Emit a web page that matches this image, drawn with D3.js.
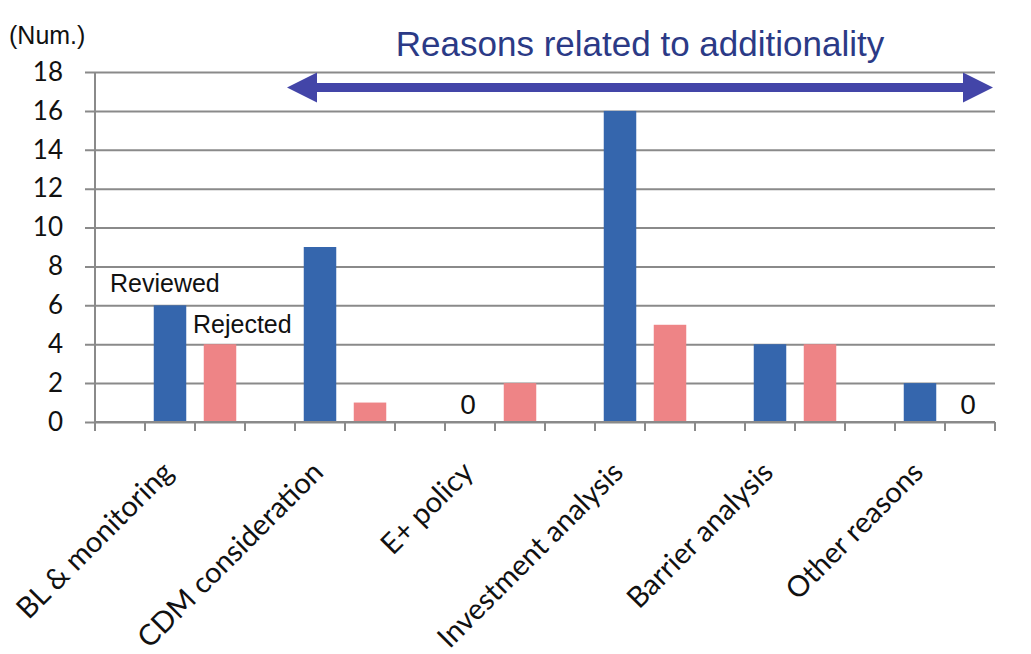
<!DOCTYPE html>
<html>
<head>
<meta charset="utf-8">
<script src="https://cdn.jsdelivr.net/npm/d3@7"></script>
<style>
  body { margin: 0; background: #fff; }
  svg { display: block; }
</style>
</head>
<body>
<script>
// chart values
const categories = ["BL & monitoring", "CDM consideration", "E+ policy", "Investment analysis", "Barrier analysis", "Other reasons"];
const reviewed = [6, 9, 0, 16, 4, 2];
const rejected = [4, 1, 2, 5, 4, 0];
const yTicks = [0, 2, 4, 6, 8, 10, 12, 14, 16, 18];
const slots = ["blank", "reviewed", "rejected"];

const W = 1031, H = 654;
const margin = {top: 72, left: 95, right: 36, bottom: 232};
const width = W - margin.left - margin.right;
const height = H - margin.top - margin.bottom;

const svg = d3.select('body').append('svg')
  .attr('width', W)
  .attr('height', H);

const g = svg.append('g')
  .attr('transform', `translate(${margin.left},${margin.top})`);

// scales
const xscale = d3.scaleBand().domain(categories).range([0, width]);
const xinner = d3.scaleBand().domain(slots).range([0, xscale.bandwidth()]);
const yscale = d3.scaleLinear().domain([0, 18]).range([height, 0]);

const barW = xinner.bandwidth() * 0.65;

// gridlines + y axis
const yaxis = d3.axisLeft(yscale).tickValues(yTicks).tickSize(-width - 10).tickPadding(22);
const g_yaxis = g.append('g').attr('transform', 'translate(-10,0)').call(yaxis);
g_yaxis.select('.domain').remove();
g_yaxis.selectAll('.tick line').attr('stroke', '#8a8a8a').attr('stroke-width', 2);
g_yaxis.selectAll('.tick text')
  .attr('font-family', 'Lato, "Open Sans", sans-serif')
  .attr('font-size', 26)
  .attr('fill', '#111');

// vertical axis line
g.append('line')
  .attr('x1', 0).attr('x2', 0)
  .attr('y1', 0).attr('y2', height)
  .attr('stroke', '#8a8a8a').attr('stroke-width', 2);

// x ticks at every slot boundary
const tickXs = [];
categories.forEach(c => slots.forEach(s => tickXs.push(xscale(c) + xinner(s))));
tickXs.push(width);
g.selectAll('.xtick').data(tickXs).join('line')
  .attr('class', 'xtick')
  .attr('x1', d => d).attr('x2', d => d)
  .attr('y1', height).attr('y2', height + 9)
  .attr('stroke', '#8a8a8a').attr('stroke-width', 2);

// bars
const rows = categories.map((c, i) => ({cat: c, reviewed: reviewed[i], rejected: rejected[i]}));
const colors = {reviewed: '#3566ad', rejected: '#ee8486'};

["reviewed", "rejected"].forEach(key => {
  g.selectAll('.bar-' + key).data(rows).join('rect')
    .attr('class', 'bar-' + key)
    .attr('x', d => xscale(d.cat) + xinner(key) + (xinner.bandwidth() - barW) / 2)
    .attr('width', barW)
    .attr('y', d => yscale(d[key]))
    .attr('height', d => height - yscale(d[key]))
    .attr('fill', colors[key]);
});

// redraw the baseline over the bars
g.append('line')
  .attr('x1', 0).attr('x2', width)
  .attr('y1', height).attr('y2', height)
  .attr('stroke', '#8a8a8a').attr('stroke-width', 2);

// zero labels
["reviewed", "rejected"].forEach(key => {
  g.selectAll('.zero-' + key).data(rows.filter(d => d[key] === 0)).join('text')
    .attr('class', 'zero-' + key)
    .attr('x', d => xscale(d.cat) + xinner(key) + xinner.bandwidth() / 2 - 2)
    .attr('y', yscale(0) - 8)
    .attr('text-anchor', 'middle')
    .attr('font-family', '"Liberation Sans", Arial, sans-serif')
    .attr('font-size', 28)
    .attr('fill', '#111')
    .text('0');
});

// category labels
g.selectAll('.xlabel').data(categories).join('text')
  .attr('class', 'xlabel')
  .attr('transform', d => `translate(${xscale(d) + xscale.bandwidth() / 2 + 5},${height + 52}) rotate(-45)`)
  .attr('text-anchor', 'end')
  .attr('font-family', 'Lato, "Open Sans", sans-serif')
  .attr('font-size', 29)
  .attr('fill', '#111')
  .text(d => d);

// series labels
const first = categories[0];
g.append('text')
  .attr('x', xscale(first) + xinner('reviewed') - 35)
  .attr('y', yscale(6) - 13)
  .attr('font-family', '"Liberation Sans", Arial, sans-serif')
  .attr('font-size', 25)
  .attr('fill', '#111')
  .text('Reviewed');
g.append('text')
  .attr('x', xscale(first) + xinner('rejected') - 2)
  .attr('y', yscale(4) - 11)
  .attr('font-family', '"Liberation Sans", Arial, sans-serif')
  .attr('font-size', 25)
  .attr('fill', '#111')
  .text('Rejected');

// unit label
svg.append('text')
  .attr('x', 9).attr('y', 44)
  .attr('font-family', '"Liberation Sans", Arial, sans-serif')
  .attr('font-size', 25)
  .attr('fill', '#111')
  .text('(Num.)');

// additionality arrow, spanning CDM consideration .. Other reasons
const ax0 = xscale(categories[1]) + 42;
const ax1 = width - 2;
const ay = yscale(17.2);
const head = 30, headH = 15, shaft = 4.5;
g.append('path')
  .attr('d', `M${ax0},${ay} L${ax0 + head},${ay - headH} L${ax0 + head},${ay - shaft}
              L${ax1 - head},${ay - shaft} L${ax1 - head},${ay - headH} L${ax1},${ay}
              L${ax1 - head},${ay + headH} L${ax1 - head},${ay + shaft}
              L${ax0 + head},${ay + shaft} L${ax0 + head},${ay + headH} Z`)
  .attr('fill', '#4345a8');

svg.append('text')
  .attr('x', 640).attr('y', 56)
  .attr('text-anchor', 'middle')
  .attr('font-family', '"Liberation Sans", Arial, sans-serif')
  .attr('font-size', 35)
  .attr('fill', '#2b3a86')
  .text('Reasons related to additionality');
</script>
</body>
</html>
